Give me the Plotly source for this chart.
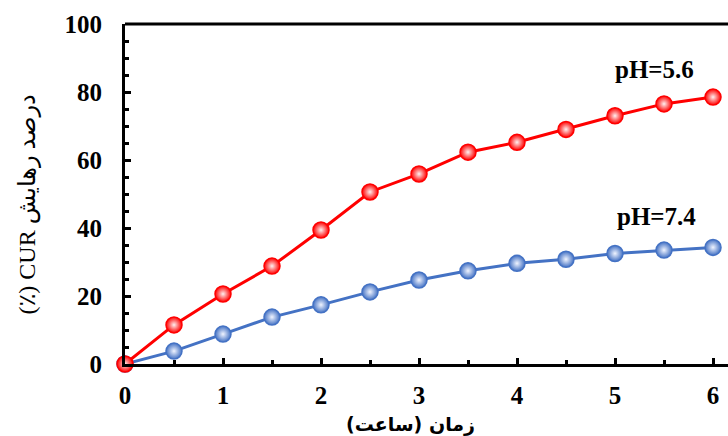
import plotly.graph_objects as go

# Release time (hours)
hours = [0, 0.5, 1, 1.5, 2, 2.5, 3, 3.5, 4, 4.5, 5, 5.5, 6]
# Cumulative CUR release (%)
release_ph56 = [0, 11.5, 20.6, 28.8, 39.4, 50.6, 55.9, 62.3, 65.2, 69.0, 73.0, 76.5, 78.5]
release_ph74 = [0, 3.8, 8.8, 13.8, 17.4, 21.2, 24.7, 27.4, 29.6, 30.8, 32.5, 33.5, 34.3]

series_labels = ["pH=5.6", "pH=7.4"]
x_ticks = [0, 1, 2, 3, 4, 5, 6]
y_ticks = [0, 20, 40, 60, 80, 100]

serif = "Liberation Serif, Times New Roman, serif"
tick_font = dict(family=serif, size=25, color="black", weight="bold")

fig = go.Figure()

def add_series(y, color, center):
    fig.add_trace(go.Scatter(
        x=hours, y=y, mode="lines+markers",
        line=dict(color=color, width=3),
        marker=dict(size=16, color=color, line=dict(color=color, width=1.5),
                    gradient=dict(type="radial", color=center)),
        cliponaxis=False, showlegend=False,
    ))

add_series(release_ph74, "#4472C4", "#F0F4FF")
add_series(release_ph56, "#FF0000", "#FFF0F0")

fig.add_annotation(x=5.4, y=86.5, text="<b>" + series_labels[0] + "</b>", showarrow=False,
                   font=dict(family=serif, size=25, color="black"))
fig.add_annotation(x=5.42, y=43.5, text="<b>" + series_labels[1] + "</b>", showarrow=False,
                   font=dict(family=serif, size=25, color="black"))

# axis titles (Persian)
fig.add_annotation(xref="paper", yref="paper", x=0.474, y=-0.178, yanchor="middle",
                   text="<b>(ساعت) زمان</b>", showarrow=False,
                   font=dict(family="DejaVu Sans, sans-serif", size=19, color="black"))
fig.add_annotation(xref="paper", yref="paper", x=-0.162, y=0.47, xanchor="center",
                   text="(٪) CUR درصد رهایش", textangle=-90, showarrow=False,
                   font=dict(family="Liberation Serif, DejaVu Sans, serif", size=24, color="black"))

# top frame line
fig.add_shape(type="line", xref="paper", yref="paper", x0=0, x1=1, y0=1, y1=1,
              line=dict(color="black", width=3))

fig.update_xaxes(
    range=[0, 6.153], tickvals=x_ticks, ticks="inside", ticklen=6, tickwidth=3,
    tickcolor="black", showline=True, linecolor="black", linewidth=3,
    showgrid=False, zeroline=False, ticklabelstandoff=7,
    tickfont=tick_font,
    minor=dict(dtick=0.5, ticks="inside", ticklen=4, tickwidth=3, tickcolor="black"),
)
fig.update_yaxes(
    range=[0, 100], tickvals=y_ticks, ticks="inside", ticklen=6, tickwidth=3,
    tickcolor="black", showline=True, linecolor="black", linewidth=3,
    showgrid=False, zeroline=False, ticklabelstandoff=15,
    tickfont=tick_font,
    minor=dict(dtick=5, ticks="inside", ticklen=4, tickwidth=3, tickcolor="black"),
)

fig.update_layout(
    width=728, height=436,
    margin=dict(l=125, r=0, t=24, b=72),
    plot_bgcolor="white", paper_bgcolor="white",
)

fig.write_html("out.html")
